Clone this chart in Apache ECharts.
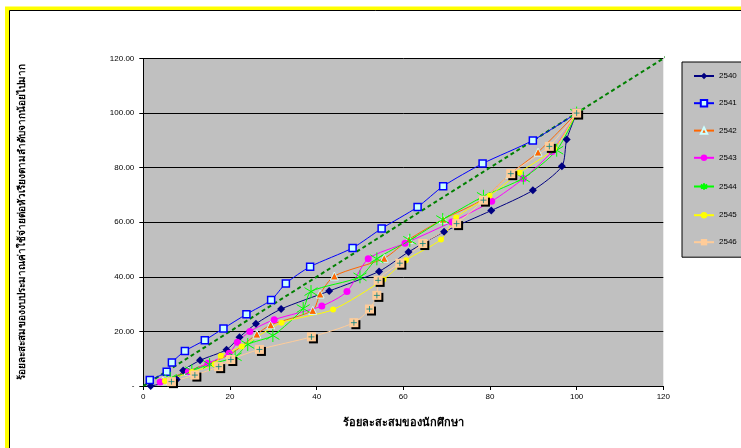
<!DOCTYPE html>
<html>
<head>
<meta charset="utf-8">
<script src="https://cdn.jsdelivr.net/npm/echarts@6/dist/echarts.min.js"></script>
<style>
html,body{margin:0;padding:0;background:#fff;}
#chart{width:741px;height:448px;}
</style>
</head>
<body>
<div id="chart"></div>
<script>
const years = ['2540','2541','2542','2543','2544','2545','2546'];
const xTicks = [0,20,40,60,80,100,120];

const x2540 = [1.7, 7.7, 9.2, 13.1, 19.2, 22.2, 26.0, 31.8, 42.9, 54.4, 61.2, 69.4, 80.3, 89.9, 96.6, 97.7, 100];
const y2540 = [0, 2.4, 5.7, 9.4, 13.3, 17.9, 22.8, 28.2, 34.8, 42.0, 49.1, 56.5, 64.3, 71.7, 80.5, 90.3, 100];

const x2541 = [1.5, 5.4, 6.6, 9.6, 14.2, 18.5, 23.8, 29.5, 32.9, 38.5, 48.3, 55.0, 63.3, 69.2, 78.3, 89.9, 100];
const y2541 = [2.2, 5.2, 8.6, 12.8, 16.8, 21.1, 26.3, 31.5, 37.6, 43.7, 50.6, 57.7, 65.6, 73.2, 81.5, 90.0, 100];

const x2542 = [4.5, 10.4, 20.0, 26.2, 29.4, 39.1, 40.8, 44.1, 55.6, 61.3, 69.2, 78.4, 84.6, 91.1, 100];
const y2542 = [1.9, 5.5, 11.6, 19.0, 22.4, 27.7, 33.7, 40.3, 46.8, 53.7, 61.1, 68.4, 77.6, 85.7, 100];

const x2543 = [3.9, 10.4, 14.9, 19.8, 21.7, 24.6, 30.2, 41.2, 47.0, 51.9, 60.4, 71.2, 80.4, 87.7, 94.3, 100];
const y2543 = [1.5, 5.2, 8.3, 12.0, 16.0, 20.0, 24.3, 29.3, 34.6, 46.6, 52.3, 60.1, 67.7, 76.0, 85.9, 100];

const x2544 = [6.2, 11.2, 15.3, 21.2, 24.1, 29.9, 36.9, 38.7, 50.0, 53.9, 61.5, 69.1, 78.5, 87.7, 95.4, 100];
const y2544 = [2.8, 5.6, 7.9, 10.7, 15.2, 18.5, 28.4, 34.6, 40.0, 46.6, 53.4, 61.0, 69.5, 76.2, 86.4, 100];

const x2545 = [5.0, 11.2, 16.5, 17.9, 22.7, 31.9, 43.8, 55.4, 60.6, 68.7, 72.2, 79.9, 86.8, 94.8, 100];
const y2545 = [1.8, 5.1, 8.0, 11.1, 14.5, 23.2, 28.0, 39.0, 46.1, 53.7, 61.7, 69.7, 78.2, 87.0, 100];

const x2546 = [6.5, 11.9, 17.4, 20.2, 26.8, 38.8, 48.6, 52.2, 53.9, 54.2, 59.2, 64.5, 72.3, 78.5, 84.8, 93.7, 100];
const y2546 = [1.6, 4.0, 7.1, 9.7, 13.4, 18.0, 23.2, 28.2, 33.2, 38.7, 45.0, 52.2, 59.5, 68.1, 77.8, 87.8, 100];

const diagX = [0, 122];
const diagY = [0, 122];

const xTitle = 'ร้อยละสะสมของนักศึกษา';
const yTitle = 'ร้อยละสะสมของงบประมาณค่าใช้จ่ายต่อหัวเรียงตามลำดับจากน้อยไปมาก';

function pairs(xs, ys){ return xs.map((v,i)=>[v, ys[i]]); }

const FONT = '"Liberation Sans", Arial, "DejaVu Sans", sans-serif';
const asterisk = 'path://M5,0L5,10M0,2L10,8M0,8L10,2';
const plus = 'path://M5,0L5,10M0,5L10,5';

const styles = {
  '2540': {line:'#000080', symbol:'diamond', size:8, item:{color:'#000080'}},
  '2541': {line:'#0000FF', symbol:'rect', size:7, item:{color:'#CCFFFF', borderColor:'#0000FF', borderWidth:1.5}},
  '2542': {line:'#FF6600', symbol:'triangle', size:8, item:{color:'#FF6600', borderColor:'#CCFFFF', borderWidth:1}},
  '2543': {line:'#FF00FF', symbol:'circle', size:7, item:{color:'#FF00FF'}},
  '2544': {line:'#00FF00', symbol:asterisk, size:13, item:{color:'none', borderColor:'#00FF00', borderWidth:1}},
  '2545': {line:'#FFFF00', symbol:'circle', size:6, item:{color:'#FFFF00'}},
  '2546': {line:'#FFCC99', symbol:'rect', size:9, item:{color:'#FFCC99', shadowColor:'#000', shadowOffsetX:2, shadowOffsetY:2, shadowBlur:0}}
};
const dataMap = {
  '2540': pairs(x2540,y2540), '2541': pairs(x2541,y2541), '2542': pairs(x2542,y2542),
  '2543': pairs(x2543,y2543), '2544': pairs(x2544,y2544), '2545': pairs(x2545,y2545),
  '2546': pairs(x2546,y2546)
};

const series = [{
  name: 'diag', type: 'line', data: pairs(diagX, diagY), symbol: 'none', clip: false,
  lineStyle: {color:'#008000', width:2, type:[4,3]}, z: 1, silent: true
}];
years.forEach(y => {
  const s = styles[y];
  series.push({
    name: y, type: 'line', data: dataMap[y], smooth: 0.25,
    symbol: s.symbol, symbolSize: s.size, showAllSymbol: true,
    lineStyle: {color: s.line, width: 1},
    itemStyle: s.item, z: 2
  });
});
series.push({
  name: '2546+', type: 'scatter', data: dataMap['2546'], symbol: plus, symbolSize: 6,
  itemStyle: {color:'none', borderColor:'#008080', borderWidth:1}, z: 3
});

const chart = echarts.init(document.getElementById('chart'), null, {renderer:'canvas'});
chart.setOption({
  animation: false,
  backgroundColor: '#FFFFFF',
  textStyle: {fontFamily: FONT},
  graphic: [
    {type:'rect', shape:{x:7, y:8.5, width:1000, height:1000}, style:{fill:'none', stroke:'#FFFF00', lineWidth:4}, z:100},
    {type:'rect', shape:{x:9.5, y:10.5, width:1000, height:1000}, style:{fill:'none', stroke:'#000000', lineWidth:1}, z:101}
  ],
  grid: {left:143.3, top:58.5, width:520, height:327.5, show:true, backgroundColor:'#C0C0C0', borderWidth:0},
  legend: {
    data: years, orient:'vertical', left:682, top:62,
    itemGap:19, itemWidth:20, itemHeight:8,
    padding:[10, 40, 11, 11],
    backgroundColor:'#C0C0C0', borderColor:'#000', borderWidth:1,
    textStyle:{fontSize:8, color:'#000', fontFamily:FONT}
  },
  xAxis: {
    type:'value', min:0, max:120, interval:20,
    name: xTitle, nameLocation:'middle', nameGap:31,
    nameTextStyle:{fontSize:11, fontWeight:'bold', color:'#000', fontFamily:FONT},
    axisLine:{show:true, lineStyle:{color:'#000', width:1}},
    axisTick:{show:true, length:4, lineStyle:{color:'#000'}},
    axisLabel:{fontSize:8, color:'#000', margin:7},
    splitLine:{show:false}
  },
  yAxis: {
    type:'value', min:0, max:120, interval:20,
    name: yTitle, nameLocation:'middle', nameGap:116, nameRotate:90,
    nameTextStyle:{fontSize:10, fontWeight:'bold', color:'#000', fontFamily:FONT},
    axisLine:{show:true, lineStyle:{color:'#000', width:1}},
    axisTick:{show:true, length:4, lineStyle:{color:'#000'}},
    axisLabel:{fontSize:8, color:'#000', margin:9, formatter: v => v === 0 ? '-' : v.toFixed(2)},
    splitLine:{show:true, lineStyle:{color:'#000', width:1}}
  },
  series: series
});
</script>
</body>
</html>
